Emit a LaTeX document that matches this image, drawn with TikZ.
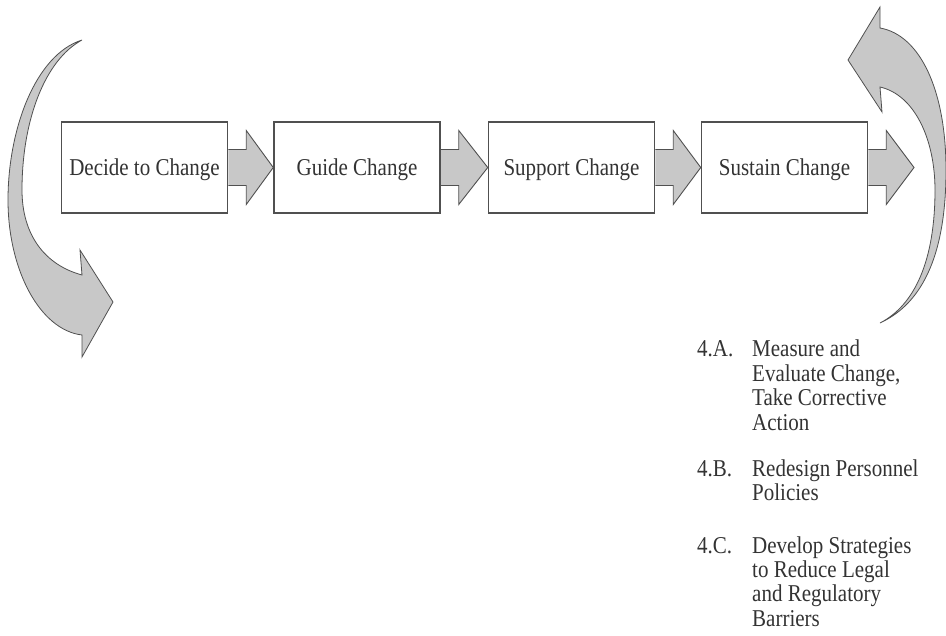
\documentclass[tikz,border=0pt]{standalone}
\usepackage{fontspec}
\setmainfont{Liberation Serif}
\usetikzlibrary{calc}
\pgfdeclarelayer{background}
\pgfsetlayers{background,main}
\definecolor{arrfill}{HTML}{C8C8C8}
\definecolor{edge}{HTML}{505050}
\definecolor{ink}{HTML}{333333}
\newcommand\talltext[1]{\scalebox{1}[1.15]{#1}}
\newcommand\boxtext[1]{\raisebox{-2.5pt}[\height][\depth]{\scalebox{1}[1.15]{#1}}}
\newcommand\tallblock[1]{\scalebox{1}[1.15]{\begin{tabular}[t]{@{}l@{}}#1\end{tabular}}}
\begin{document}
\begin{tikzpicture}[x=1pt,y=-1pt,
  stage/.style={draw=edge,line width=1.5pt,fill=white,text=ink,minimum width=166pt,minimum height=91pt,inner sep=0pt,font=\fontsize{21}{25}\selectfont},
  barrow/.style={draw=edge,line width=0.9pt,fill=arrfill,line join=miter},
  carrow/.style={draw=edge,line width=0.8pt,fill=arrfill,line join=miter},
  itemlab/.style={anchor=base west,inner sep=0pt,text=ink,font=\fontsize{21}{21.3}\selectfont},
  itemtxt/.style={anchor=base west,inner sep=0pt,text=ink,font=\fontsize{21}{21.3}\selectfont}]
\useasboundingbox (0,0) rectangle (946,636);

\node[stage] (b1) at (144.5,167.5) {\boxtext{Decide to Change}};
\node[stage] (b2) at (357,167.5) {\boxtext{Guide Change}};
\node[stage] (b3) at (571.5,167.5) {\boxtext{Support Change}};
\node[stage] (b4) at (784.5,167.5) {\boxtext{Sustain Change}};
\coordinate (end) at (914,167.5);

\begin{pgfonlayer}{background}
\foreach \a/\b in {b1/b2,b2/b3,b3/b4,b4/end}{
  \draw[barrow] ($(\a.east)+(0,-18)$) -| ($(\a.east)+(18,-37)$) -- (\b.west |- \a.east) -- ($(\a.east)+(18,37)$) |- ($(\a.east)+(0,18)$);
}
\end{pgfonlayer}
% left curved arrow
\draw[carrow] (82,40) .. controls (35,55) and (8,130) .. (8,200)
  .. controls (8,270) and (40,330) .. (82,335) -- (82,357) -- (113,302) -- (80,250) -- (82,275)
  .. controls (45,265) and (22,235) .. (22,190)
  .. controls (22,120) and (45,60) .. (82,40) -- cycle;
% right curved arrow
\draw[carrow] (880,323) .. controls (930,300) and (946,240) .. (946,170)
  .. controls (946,90) and (920,35) .. (880,28) -- (880,7) -- (848,60) -- (882,112) -- (880,87)
  .. controls (915,95) and (935,140) .. (935,190)
  .. controls (935,260) and (915,305) .. (880,323) -- cycle;

\node[itemlab] (la) at (697,357) {\talltext{4.A.}};
\node[itemtxt] (ta) at (752,357) {\tallblock{Measure and\\Evaluate Change,\\Take Corrective\\Action}};
\node[itemlab] (lb) at (697,476) {\talltext{4.B.}};
\node[itemtxt] (tb) at (752,476) {\tallblock{Redesign Personnel\\Policies}};
\node[itemlab] (lc) at (697,553) {\talltext{4.C.}};
\node[itemtxt] (tc) at (752,553) {\tallblock{Develop Strategies\\to Reduce Legal\\and Regulatory\\Barriers}};
\end{tikzpicture}
\end{document}
